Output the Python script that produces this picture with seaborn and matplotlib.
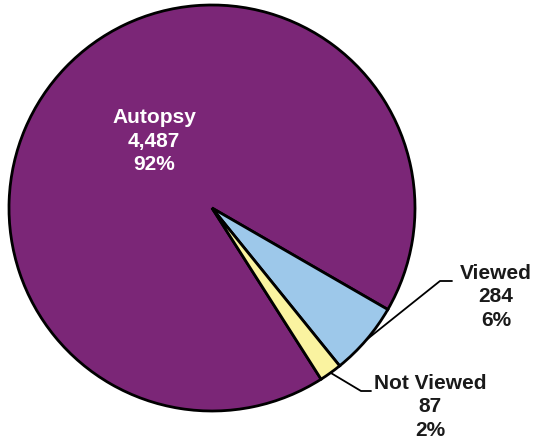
import numpy as np
import matplotlib
matplotlib.use("Agg")
import matplotlib.pyplot as plt
import seaborn as sns

categories = ["Autopsy", "Viewed", "Not Viewed"]
counts = [4487, 284, 87]
pct_labels = ["92%", "6%", "2%"]
colors = ["#7B2677", "#9DC8EA", "#FAF3A0"]

sns.set_theme(style="white")
plt.rcParams['font.family'] = ['Liberation Sans', 'DejaVu Sans']

W, H = 533, 444
fig = plt.figure(figsize=(W / 100, H / 100), dpi=100)
ax = fig.add_axes([0, 0, 1, 1])

cx, cy, r = 212, H - 208, 203
total = sum(counts)
# clockwise order: Autopsy, Viewed, Not Viewed ; Autopsy wedge ends at -30 deg
startangle = -30 + 360 * counts[0] / total
wedges, _ = ax.pie(counts, colors=colors, startangle=startangle, counterclock=False,
                   center=(cx, cy), radius=r, frame=True,
                   wedgeprops=dict(edgecolor='black', linewidth=2.0))
ax.set_xlim(0, W)
ax.set_ylim(0, H)
ax.set_aspect('equal')
ax.axis('off')

fs = 15
ls = 1.28
ax.text(154, H - 141, f"{categories[0]}\n{counts[0]:,}\n{pct_labels[0]}",
        ha='center', va='center', color='white', fontsize=fs, fontweight='bold',
        linespacing=ls)

elbows = {1: (440, 452, H - 281), 2: (361, 371, H - 391)}
text_pos = {1: (496, H - 297), 2: (430, H - 407)}
for i in (1, 2):
    w = wedges[i]
    ang = np.deg2rad((w.theta1 + w.theta2) / 2)
    x0, y0 = cx + r * np.cos(ang), cy + r * np.sin(ang)
    ex, hx, ey = elbows[i]
    ax.plot([x0, ex, hx], [y0, ey, ey], color='black', lw=1.3)
    tx, ty = text_pos[i]
    ax.text(tx, ty, f"{categories[i]}\n{counts[i]:,}\n{pct_labels[i]}",
            ha='center', va='center', color='#1a1a1a', fontsize=fs, fontweight='bold',
            linespacing=ls)

fig.savefig("out.png", dpi=100)
